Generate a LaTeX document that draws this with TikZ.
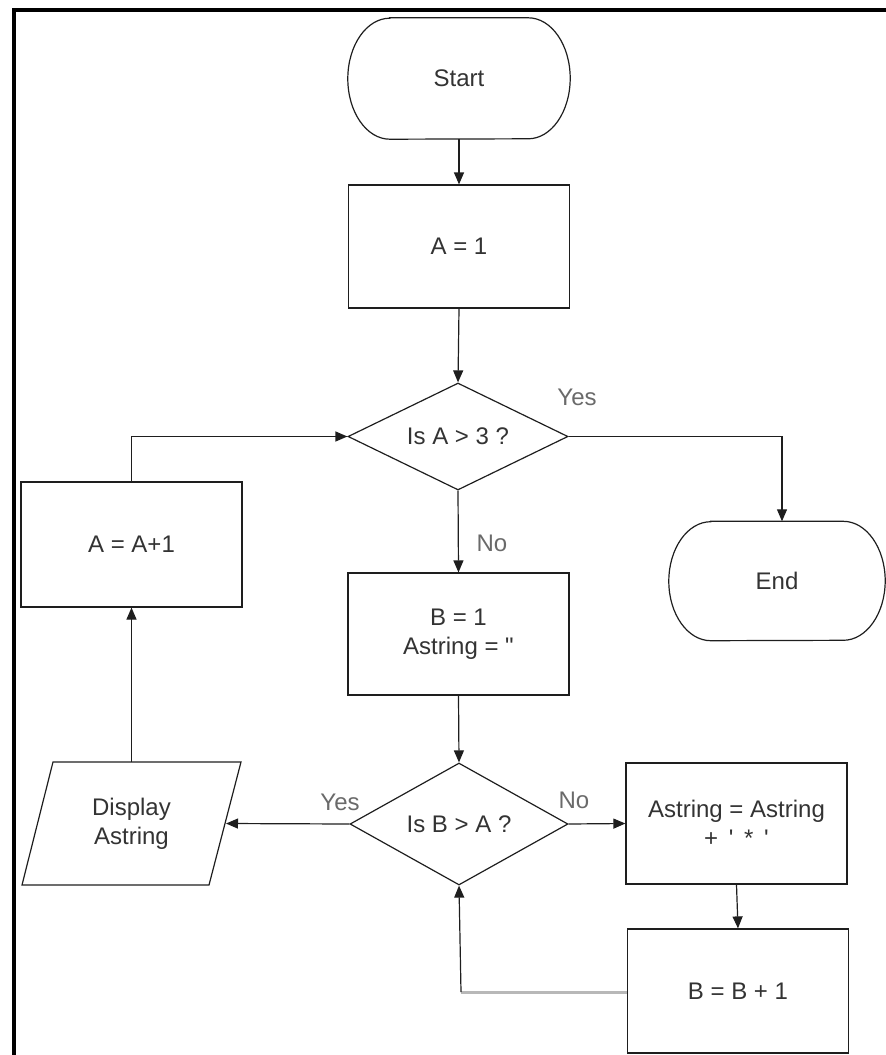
\documentclass[tikz,border=0pt]{standalone}
\usepackage{fontspec}
\setmainfont{Liberation Sans}
\newfontfamily\nolig[Ligatures=TeXOff]{Liberation Sans}
\usetikzlibrary{arrows.meta,shapes.geometric,calc}
\definecolor{txt}{HTML}{333333}
\definecolor{lbl}{HTML}{6A6A6A}
\definecolor{ln}{HTML}{1E1E1E}
\definecolor{loopgray}{HTML}{B8B8B8}
\begin{document}
\begin{tikzpicture}[x=1pt,y=1pt,
  every node/.style={font=\fontsize{24}{29}\selectfont, text=txt, align=center, inner sep=0pt},
  procbox/.style={draw=ln, line width=1.2pt, rectangle, minimum width=221, minimum height=123},
  decision/.style={draw=ln, line width=1.2pt, diamond, aspect=2, inner sep=0pt},
  shapeline/.style={draw=ln, line width=1.2pt},
  conn/.style={draw=ln, line width=1.2pt, -{Triangle[length=12pt,width=10pt]}},
  lab/.style={text=lbl}
]
\useasboundingbox (0,0) rectangle (886,-1055);
% frame
\draw[line width=4pt, black] (13.5,-1060) -- (13.5,-10) -- (890,-10);

% terminals (stadiums with elliptical ends)
\node (start) at (459,-78.5) [minimum width=222, minimum height=121] {Start};
\draw[shapeline] ($(start.north west)+(42,0)$) -- ($(start.north east)+(-42,0)$)
  arc[start angle=90, end angle=-90, x radius=42, y radius=60.5]
  -- ($(start.south west)+(42,0)$)
  arc[start angle=270, end angle=90, x radius=42, y radius=60.5] -- cycle;

\node (end) at (777,-581) [minimum width=216, minimum height=119] {End};
\draw[shapeline] ($(end.north west)+(42,0)$) -- ($(end.north east)+(-42,0)$)
  arc[start angle=90, end angle=-90, x radius=42, y radius=59.5]
  -- ($(end.south west)+(42,0)$)
  arc[start angle=270, end angle=90, x radius=42, y radius=59.5] -- cycle;

% process boxes
\node[procbox] (a1) at (459,-246.5) {A = 1};
\node[procbox] (a2) at (131.5,-544.5) [minimum height=125] {A = A+1};
\node[procbox] (b1) at (458.5,-634) [minimum height=122] {B = 1\\Astring = {\nolig\char34}};
\node[procbox] (as) at (736.5,-823.5) [minimum height=121] {Astring = Astring\\+ \,{\nolig\char39}\, * \,{\nolig\char39}};
\node[procbox] (bb) at (738,-991) [minimum height=124] {B = B + 1};

% decisions
\node[decision, minimum width=220, minimum height=107] (d1) at (458,-436.5) {};
\node at (d1.center) {Is A > 3 ?};
\node[decision, minimum width=218, minimum height=122] (d2) at (459,-824) {};
\node at (d2.center) {Is B > A ?};

% display (parallelogram)
\node (disp) at (131.5,-823.5) [minimum width=1, minimum height=123] {Display\\Astring};
\draw[shapeline] (53,-762) -- (241,-762) -- (209,-885) -- (22,-885) -- cycle;
\coordinate (dispR) at (226,-823.5);

% connectors
\draw[conn] (start.south) -- (a1.north);
\draw[conn] (a1.south) -- (d1.north);
\coordinate (c1) at (782,-436.5);
\draw[conn] (d1.east) -- (c1) -- (c1 |- end.north);
\node[lab] at (577,-397) {Yes};
\draw[conn] (d1.south) -- (b1.north);
\node[lab] at (492,-543) {No};
\draw[conn] (b1.south) -- (d2.north);
\draw[conn] (d2.east) -- (as.west);
\node[lab] at (574,-800) {No};
\draw[conn] (d2.west) -- (dispR);
\node[lab] at (340,-802) {Yes};
\draw[conn] (as.south) -- (bb.north);
\coordinate (c2) at (461,-992);
\draw[draw=loopgray, line width=3pt] (bb.west |- c2) -- (c2);
\draw[conn] (c2) -- (d2.south);
\draw[conn] (disp.north) -- (a2.south);
\coordinate (c3) at (131.5,-436.5);
\draw[conn] (a2.north) -- (c3) -- (d1.west);
\end{tikzpicture}
\end{document}
